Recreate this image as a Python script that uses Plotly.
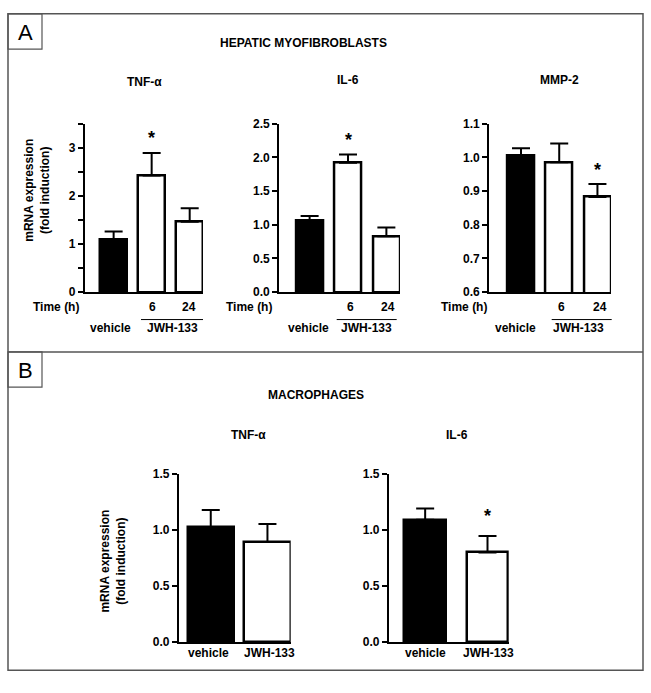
import plotly.graph_objects as go

W, H = 651, 693

# ---------------- data ----------------
hm_tnf_mean = [1.10, 2.42, 1.46]
hm_tnf_sem = [0.16, 0.47, 0.28]
hm_il6_mean = [1.06, 1.92, 0.83]
hm_il6_sem = [0.07, 0.12, 0.13]
hm_mmp_mean = [1.005, 0.985, 0.882]
hm_mmp_sem = [0.022, 0.056, 0.039]
mac_tnf_mean = [1.025, 0.894]
mac_tnf_sem = [0.155, 0.16]
mac_il6_mean = [1.093, 0.80]
mac_il6_sem = [0.10, 0.147]

time_labels = ["6", "24"]
group_labels = ["vehicle", "JWH-133"]
panel_titles = ["HEPATIC MYOFIBROBLASTS", "MACROPHAGES"]
sub_titles_a = ["TNF-α", "IL-6", "MMP-2"]
sub_titles_b = ["TNF-α", "IL-6"]

FONT = "Liberation Sans, Arial, Helvetica, sans-serif"


def px(x):
    return x / W


def py(y):
    return 1 - y / H


fig = go.Figure()
annotations = []
shapes = []

specs = [
    dict(m=hm_tnf_mean, s=hm_tnf_sem, col=["black", "white", "white"], xd=(85, 203), yd=(119, 291),
         xr=[-0.753, 2.35], yr=[0, 3.5], dt=1, minor=0.5, fmt="d", star=1, shift=3, bw=0.70),
    dict(m=hm_il6_mean, s=hm_il6_sem, col=["black", "white", "white"], xd=(279.3, 400), yd=(119, 291),
         xr=[-0.79, 2.355], yr=[0, 2.5], dt=0.5, minor=None, fmt=".1f", star=1, shift=3, bw=0.70),
    dict(m=hm_mmp_mean, s=hm_mmp_sem, col=["black", "white", "white"], xd=(489.3, 611), yd=(119, 291),
         xr=[-0.83, 2.355], yr=[0.6, 1.1], dt=0.1, minor=None, fmt=".1f", star=2, shift=2, bw=0.71),
    dict(m=mac_tnf_mean, s=mac_tnf_sem, col=["black", "white"], xd=(179, 290.7), yd=(476.7, 648.3),
         xr=[-0.56, 1.41], yr=[0, 1.5], dt=0.5, minor=None, fmt=".1f", star=None, shift=0, bw=0.82),
    dict(m=mac_il6_mean, s=mac_il6_sem, col=["black", "white"], xd=(389, 508.7), yd=(476.7, 648.3),
         xr=[-0.58, 1.34], yr=[0, 1.5], dt=0.5, minor=None, fmt=".1f", star=1, shift=8, bw=0.67),
]

layout_axes = {}
for i, sp in enumerate(specs, start=1):
    xa = "x" if i == 1 else f"x{i}"
    ya = "y" if i == 1 else f"y{i}"
    n = len(sp["m"])
    fig.add_trace(go.Bar(
        x=list(range(n)), y=sp["m"], width=sp["bw"],
        marker=dict(color=sp["col"], line=dict(color="black", width=2.5)),
        error_y=dict(type="data", symmetric=False, array=sp["s"], arrayminus=[0] * n,
                     color="black", thickness=2, width=9),
        xaxis=xa, yaxis=ya, showlegend=False, hoverinfo="skip",
    ))
    xkey = "xaxis" if i == 1 else f"xaxis{i}"
    ykey = "yaxis" if i == 1 else f"yaxis{i}"
    layout_axes[xkey] = dict(
        domain=[px(sp["xd"][0]), px(sp["xd"][1])], range=sp["xr"], anchor=ya,
        showline=True, linecolor="black", linewidth=2.2, showgrid=False, zeroline=False,
        ticks="", showticklabels=False, fixedrange=True,
    )
    ydict = dict(
        domain=[py(sp["yd"][1]), py(sp["yd"][0])], range=sp["yr"], anchor=xa,
        showline=True, linecolor="black", linewidth=2.2, showgrid=False, zeroline=False,
        ticks="outside", ticklen=5, tickwidth=2, tickcolor="black", dtick=sp["dt"],
        tick0=sp["yr"][0], tickformat=sp["fmt"],
        tickfont=dict(family=FONT, size=12, color="black", weight="bold"),
        fixedrange=True,
    )
    if sp["minor"]:
        ydict["minor"] = dict(dtick=sp["minor"], ticks="outside", ticklen=5, tickwidth=2,
                              tickcolor="black", showgrid=False)
    layout_axes[ykey] = ydict

    if sp["star"] is not None:
        k = sp["star"]
        annotations.append(dict(
            x=k, y=sp["m"][k] + sp["s"][k], xref=xa, yref=ya, text="<b>*</b>",
            showarrow=False, yanchor="bottom", yshift=sp["shift"],
            font=dict(family=FONT, size=18, color="black"),
        ))


def txt(x, y, s, size=12, bold=True, angle=0):
    annotations.append(dict(
        x=px(x), y=py(y), xref="paper", yref="paper",
        text=f"<b>{s}</b>" if bold else s, showarrow=False,
        xanchor="center", yanchor="middle", textangle=angle,
        font=dict(family=FONT, size=size, color="black"),
    ))


txt(303, 36.7, panel_titles[0])
txt(315.7, 395.7, panel_titles[1])
for (x, y), t in zip([(144, 77), (347.5, 75), (559, 75)], sub_titles_a):
    txt(x, y, t)
for (x, y), t in zip([(248.3, 436.7), (456.7, 436.7)], sub_titles_b):
    txt(x, y, t)

txt(37, 187.5, "mRNA expression<br>(fold induction)", size=12, angle=-90)
txt(113, 565, "mRNA expression<br>(fold induction)", size=12, angle=-90)

time_x = [55.5, 249, 464]
for tx in time_x:
    txt(tx, 305.7, "Time (h)")
a_pos = [
    dict(t6=152.7, t24=188.7, veh=110.7, jwh=173, line=(141, 203)),
    dict(t6=350, t24=388, veh=308, jwh=366.7, line=(336.7, 396.7)),
    dict(t6=561.7, t24=600, veh=515.7, jwh=578.3, line=(551.7, 611.7)),
]
for p in a_pos:
    txt(p["t6"], 305.7, time_labels[0])
    txt(p["t24"], 305.7, time_labels[1])
    txt(p["veh"], 328, group_labels[0])
    txt(p["jwh"], 328, group_labels[1])
    shapes.append(dict(type="line", xref="paper", yref="paper",
                       x0=px(p["line"][0]), x1=px(p["line"][1]), y0=py(319), y1=py(319),
                       line=dict(color="black", width=1)))

for xv, xj in [(208.3, 269.3), (425, 488.3)]:
    txt(xv, 659.3, group_labels[0])
    txt(xj, 659.3, group_labels[1])

frame_col = "#555555"
shapes.append(dict(type="rect", xref="paper", yref="paper", x0=px(8), x1=px(643), y0=py(677), y1=py(7),
                   line=dict(color=frame_col, width=1.5)))
shapes.append(dict(type="line", xref="paper", yref="paper", x0=px(8), x1=px(643), y0=py(352), y1=py(352),
                   line=dict(color=frame_col, width=1.5)))
shapes.append(dict(type="rect", xref="paper", yref="paper", x0=px(8), x1=px(42), y0=py(43), y1=py(7),
                   line=dict(color=frame_col, width=1.2)))
shapes.append(dict(type="rect", xref="paper", yref="paper", x0=px(8), x1=px(42), y0=py(388), y1=py(352),
                   line=dict(color=frame_col, width=1.2)))
txt(25, 26, "A", size=22, bold=False)
txt(25, 371, "B", size=22, bold=False)

fig.update_layout(
    width=W, height=H, margin=dict(l=0, r=0, t=0, b=0),
    paper_bgcolor="white", plot_bgcolor="rgba(0,0,0,0)",
    annotations=annotations, shapes=shapes, bargap=0,
    font=dict(family=FONT, color="black"),
    **layout_axes,
)

fig.write_html("out.html", config={"displayModeBar": False},
               post_script="document.body.style.margin='0';document.body.style.overflow='hidden';")
